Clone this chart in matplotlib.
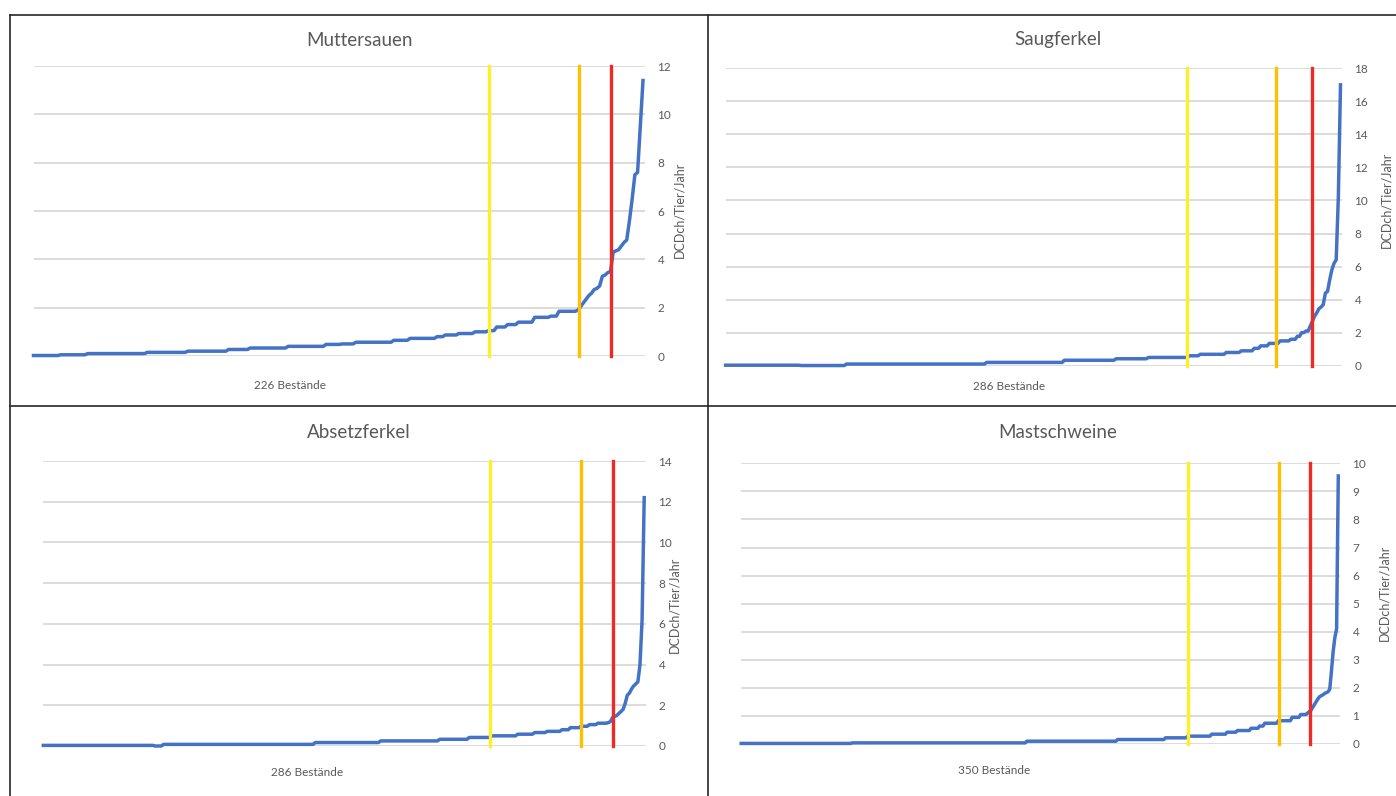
import matplotlib
matplotlib.use("Agg")
import matplotlib.pyplot as plt
from matplotlib.lines import Line2D
import numpy as np

plt.rcParams['font.family'] = ['Lato', 'DejaVu Sans']

W, H = 1396, 796

# --- Daten: Plateaus (Wert, Anzahl) + steiler Auslauf ---
mutter_stufen = [0.02, 0.05, 0.1, 0.15, 0.2, 0.27, 0.33, 0.4, 0.48, 0.5, 0.57, 0.65,
                 0.73, 0.8, 0.87, 0.93, 1.0, 1.05, 1.2, 1.3, 1.4, 1.6, 1.65, 1.85]
mutter_anzahl = [10, 10, 22, 15, 15, 8, 14, 14, 6, 5, 14, 6,
                 10, 3, 5, 6, 5, 3, 4, 4, 6, 6, 3, 7]
mutter_spitze = [1.9, 2.05, 2.2, 2.35, 2.5, 2.6, 2.75, 2.8, 2.9, 3.3, 3.35, 3.45, 3.5,
                 4.3, 4.35, 4.4, 4.55, 4.7, 4.8, 5.6, 6.5, 7.5, 7.6, 9.5, 11.4]
mutter_grenzen = [168, 201.5, 213.3]

saug_stufen = [0.03, 0.01, 0.1, 0.2, 0.33, 0.42, 0.5, 0.6, 0.69, 0.8, 0.9, 1.05,
               1.2, 1.35, 1.5, 1.6, 1.78, 2.0, 2.1]
saug_anzahl = [35, 21, 65, 36, 24, 15, 19, 5, 12, 7, 6, 3,
               4, 5, 5, 3, 2, 2, 2]
saug_spitze = [2.4, 2.7, 3.0, 3.2, 3.45, 3.55, 3.7, 4.4, 4.5, 5.2, 5.8, 6.2, 6.4, 10.2, 17.0]
saug_grenzen = [214, 255, 271.6]

absetz_stufen = [0.03, 0.0, 0.08, 0.17, 0.25, 0.33, 0.42, 0.5, 0.58, 0.66, 0.72, 0.8,
                 0.9, 0.97, 1.05, 1.12]
absetz_anzahl = [53, 4, 72, 31, 28, 14, 11, 12, 8, 6, 7, 4,
                 5, 4, 4, 5]
absetz_spitze = [1.15, 1.2, 1.4, 1.45, 1.5, 1.6, 1.7, 1.8, 2.1, 2.5, 2.6, 2.8, 2.95,
                 3.05, 3.15, 4.0, 6.2, 12.2]
absetz_grenzen = [211.7, 255.2, 270.2]

mast_stufen = [0.02, 0.04, 0.1, 0.16, 0.22, 0.28, 0.35, 0.42, 0.48, 0.56, 0.64, 0.74,
               0.83, 0.95, 1.05]
mast_anzahl = [65, 102, 53, 28, 13, 14, 9, 6, 8, 5, 3, 8,
               8, 5, 4]
mast_spitze = [1.1, 1.15, 1.2, 1.3, 1.4, 1.5, 1.6, 1.68, 1.72, 1.75, 1.8, 1.83, 1.86,
               1.95, 2.6, 3.3, 3.8, 4.1, 9.55]
mast_grenzen = [261, 314.6, 332.6]

titel = ["Muttersauen", "Saugferkel", "Absetzferkel", "Mastschweine"]
bestaende = ["226 Bestände", "286 Bestände", "286 Bestände", "350 Bestände"]
ymax = [12, 18, 14, 10]
ystep = [2, 2, 2, 1]

reihen = [
    np.concatenate([np.repeat(mutter_stufen, mutter_anzahl), mutter_spitze]),
    np.concatenate([np.repeat(saug_stufen, saug_anzahl), saug_spitze]),
    np.concatenate([np.repeat(absetz_stufen, absetz_anzahl), absetz_spitze]),
    np.concatenate([np.repeat(mast_stufen, mast_anzahl), mast_spitze]),
]
grenzen = [mutter_grenzen, saug_grenzen, absetz_grenzen, mast_grenzen]

# Layout in Pixeln: links, rechts, oben, unten (Null-Linie)
boxen = [(33.5, 645, 66, 356), (725.6, 1342, 68.3, 365.7),
         (43.3, 646, 461, 746), (741.2, 1340, 463.3, 744)]
kurven_ende = [643, 1340.5, 644.2, 1338.3]
titel_pos = [(360, 40), (1058, 40), (359, 432), (1058, 432)]
best_pos = [(290, 385), (1009, 386), (307, 772), (994, 770)]
ylab_pos = [(679, 210), (1386, 200), (674, 605), (1384, 593)]

blau = "#4472C4"
linien_farben = ["#FFEF2A", "#FFC000", "#EE2A24"]
grau = "#595959"

fig = plt.figure(figsize=(W / 100, H / 100), dpi=100)

for k in range(4):
    l, r, t, b = boxen[k]
    ax = fig.add_axes([l / W, 1 - b / H, (r - l) / W, (b - t) / H])
    y = reihen[k]
    n = len(y)
    x = np.arange(n)
    xmax = (n - 1) * (r - l) / (kurven_ende[k] - l)
    ax.set_xlim(0, xmax)
    ax.set_ylim(0, ymax[k])
    ax.set_yticks(np.arange(0, ymax[k] + 0.1, ystep[k]))
    ax.yaxis.tick_right()
    ax.tick_params(axis='y', length=0, pad=9, labelsize=8.5, colors=grau)
    ax.set_xticks([])
    for s in ax.spines.values():
        s.set_visible(False)
    ax.grid(axis='y', color="#D9D9D9", linewidth=1.3, zorder=0)
    ax.set_axisbelow(True)
    ax.plot(x, y, color=blau, linewidth=2.5, zorder=3, clip_on=False)
    for g, c in zip(grenzen[k], linien_farben):
        ax.plot([g, g], [0, ymax[k]], color=c, linewidth=2.4, zorder=4, clip_on=False)

    fig.text(titel_pos[k][0] / W, 1 - titel_pos[k][1] / H, titel[k], fontsize=13.5,
             color=grau, ha='center', va='center')
    fig.text(best_pos[k][0] / W, 1 - best_pos[k][1] / H, bestaende[k], fontsize=8.5,
             color=grau, ha='center', va='center')
    fig.text(ylab_pos[k][0] / W, 1 - ylab_pos[k][1] / H, "DCDch/Tier/Jahr", fontsize=9,
             color=grau, ha='center', va='center', rotation=90)

# Tabellenrahmen
rahmen = [((10, 1396), (15, 15)), ((10, 10), (15, 796)),
          ((708, 708), (15, 796)), ((10, 1396), (406, 406))]
for xs, ys in rahmen:
    fig.add_artist(Line2D([xs[0] / W, xs[1] / W], [1 - ys[0] / H, 1 - ys[1] / H],
                          color="#262626", linewidth=1.2))

fig.savefig("out.png", dpi=100)
